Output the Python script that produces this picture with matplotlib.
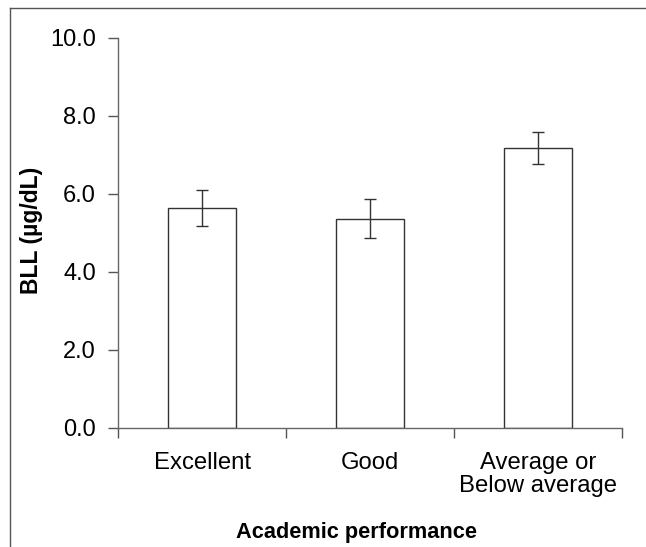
import matplotlib
matplotlib.use("Agg")
import matplotlib.pyplot as plt
from matplotlib.lines import Line2D
from matplotlib.ticker import FormatStrFormatter

categories = ["Excellent", "Good", "Average or\nBelow average"]
means = [5.63, 5.36, 7.17]
err_low = [5.17, 4.86, 6.76]
err_high = [6.10, 5.88, 7.58]
yticks = [0, 2, 4, 6, 8, 10]

plt.rcParams['font.family'] = ['Liberation Sans', 'DejaVu Sans']

W, H = 646, 547
fig = plt.figure(figsize=(W / 100, H / 100), dpi=100)
ax = fig.add_axes([118 / W, 1 - 428 / H, (622 - 118) / W, (428 - 38) / H])

x = list(range(len(categories)))
yerr = [[m - lo for m, lo in zip(means, err_low)], [hi - m for m, hi in zip(means, err_high)]]
ax.bar(x, means, width=0.4, color='white', edgecolor='#333333', linewidth=1.0, zorder=2)
ax.errorbar(x, means, yerr=yerr, fmt='none', ecolor='#333333', elinewidth=1.0,
            capsize=4.3, capthick=1.0, zorder=3)

ax.set_xlim(-0.5, 2.5)
ax.set_ylim(0, 10)
ax.set_yticks(yticks)
ax.yaxis.set_major_formatter(FormatStrFormatter('%.1f'))
ax.set_xticks(x)
ax.set_xticklabels(categories, fontsize=17.2, linespacing=1.07)
ax.set_xticks([-0.5, 0.5, 1.5, 2.5], minor=True)
ax.tick_params(axis='x', which='major', length=0, pad=17)
ax.tick_params(axis='x', which='minor', length=7, direction='out', color='#555555', width=1)
ax.tick_params(axis='y', length=7, direction='out', color='#555555', width=1, labelsize=17, pad=9)

for s in ['top', 'right']:
    ax.spines[s].set_visible(False)
for s in ['left', 'bottom']:
    ax.spines[s].set_color('#666666')
    ax.spines[s].set_linewidth(1.0)

ax.set_ylabel('BLL (µg/dL)', fontsize=16.5, fontweight='bold')
ax.yaxis.set_label_coords(-(118 - 43) / 504, (428 - 230) / 390)
ax.set_xlabel('Academic performance', fontsize=15.7, fontweight='bold')
ax.xaxis.set_label_coords((357 - 118) / 504, -(522 - 428) / 390)

# frame lines (top and left)
fig.add_artist(Line2D([10 / W, 1], [1 - 8 / H, 1 - 8 / H], color='#555555', linewidth=1.0,
                      transform=fig.transFigure))
fig.add_artist(Line2D([10 / W, 10 / W], [0, 1 - 8 / H], color='#555555', linewidth=1.0,
                      transform=fig.transFigure))

fig.savefig('out.png', dpi=100)
